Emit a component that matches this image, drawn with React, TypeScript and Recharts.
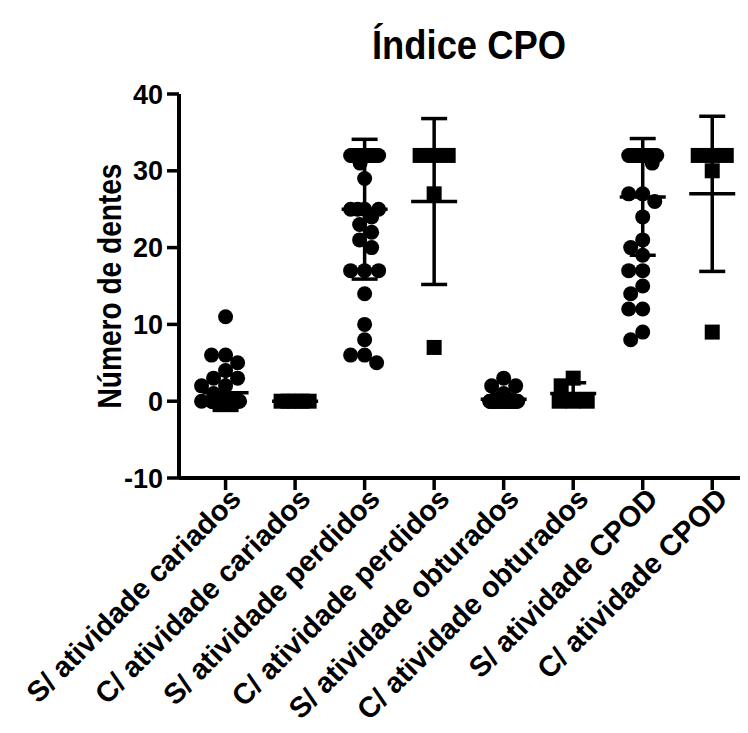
import React from "react";
import { ComposedChart, Scatter, XAxis, YAxis, ErrorBar } from "recharts";

const categories = [
  "S/ atividade cariados",
  "C/ atividade cariados",
  "S/ atividade perdidos",
  "C/ atividade perdidos",
  "S/ atividade obturados",
  "C/ atividade obturados",
  "S/ atividade CPOD",
  "C/ atividade CPOD",
];

// S/ = circles, C/ = squares
const semCariados = [
  11, 6, 6, 5, 4, 3, 3, 2, 2, 1, 0, 0, 0, 0, 0, 0, 0, 0, 0, 0, 0, 0, 0, 0, 0,
  0, 0, 0, 0, 0, 0, 0, 0, 0, 0, 0, 0, 0, 0,
];
const comCariados = [0, 0, 0, 0, 0];
const semPerdidos = [
  32, 32, 32, 32, 32, 32, 32, 32, 32, 32, 32, 32, 32, 32, 32, 32, 32, 32, 32,
  31, 29, 25, 25, 25, 25, 24, 23, 22, 21, 20, 17, 17, 17, 14, 10, 8, 6, 6, 5,
];
const comPerdidos = [32, 32, 32, 27, 7];
const semObturados = [
  3, 2, 2, 1, 0, 0, 0, 0, 0, 0, 0, 0, 0, 0, 0, 0, 0, 0, 0, 0, 0, 0, 0, 0, 0,
  0, 0, 0, 0, 0, 0, 0, 0, 0, 0, 0, 0, 0, 0,
];
const comObturados = [3, 2, 0, 0, 0];
const semCPOD = [
  32, 32, 32, 32, 32, 32, 32, 32, 32, 32, 32, 32, 32, 32, 32, 32, 32, 32, 32,
  32, 32, 32, 32, 31, 27, 27, 26, 24, 21, 20, 19, 17, 17, 15, 14, 12, 12, 9, 8,
];
const comCPOD = [32, 32, 32, 30, 9];

const groups = [
  semCariados,
  comCariados,
  semPerdidos,
  comPerdidos,
  semObturados,
  comObturados,
  semCPOD,
  comCPOD,
];

// mean and SD as drawn
const means = [1.1, 0, 25.0, 26.0, 0.25, 1.0, 26.6, 27.0];
const sds = [2.3, 0, 9.1, 10.8, 0.7, 1.4, 7.6, 10.1];

const yTicks = [-10, 0, 10, 20, 30, 40];

const FONT = "'Liberation Sans', Arial, sans-serif";
const PX_X = 69.43; // px per category
const PX_Y = 7.68; // px per tooth
const MARK = 15;
const FREE_SPREAD = 24;
const ROW_SPREAD = 14;

// simple beeswarm: spread overlapping points sideways
function swarm(values: number[], index: number) {
  const placed: { dx: number; dy: number }[] = [];
  return [...values]
    .sort((a, b) => b - a)
    .map((v) => {
      const dy = v * PX_Y;
      const minDist = (dx: number) =>
        placed.reduce(
          (m, p) => Math.min(m, Math.hypot(p.dx - dx, p.dy - dy)),
          Infinity
        );
      let dx = 0;
      let found = false;
      for (let s = 0; s <= FREE_SPREAD && !found; s += 0.5) {
        for (const c of s === 0 ? [0] : [-s, s]) {
          if (minDist(c) >= MARK - 1) {
            dx = c;
            found = true;
            break;
          }
        }
      }
      if (!found) {
        let best = -1;
        for (let c = -ROW_SPREAD; c <= ROW_SPREAD; c += 0.5) {
          const d = minDist(c);
          if (d > best + 0.01) {
            best = d;
            dx = c;
          }
        }
      }
      placed.push({ dx, dy });
      return { x: index + dx / PX_X, y: v };
    });
}

const meanData = means.map((m, i) => ({ x: i, y: m, sd: sds[i] }));

const Circle = (props: any) => (
  <circle cx={props.cx} cy={props.cy} r={MARK / 2} fill="#000" />
);
const Square = (props: any) => (
  <rect
    x={props.cx - MARK / 2}
    y={props.cy - MARK / 2}
    width={MARK}
    height={MARK}
    fill="#000"
  />
);
const MeanLine = (props: any) => (
  <line
    x1={props.cx - 23}
    x2={props.cx + 23}
    y1={props.cy}
    y2={props.cy}
    stroke="#000"
    strokeWidth={3.5}
  />
);

const XTick = ({ x, y, payload }: any) => (
  <text
    x={x}
    y={y}
    dx={6}
    dy={18}
    transform={`rotate(-45, ${x}, ${y})`}
    textAnchor="end"
    fontFamily={FONT}
    fontWeight="bold"
    fontSize={29}
    fill="#000"
  >
    {categories[payload.value]}
  </text>
);

const YLabel = ({ viewBox }: any) => {
  const cy = viewBox.y + viewBox.height / 2;
  return (
    <text
      x={113}
      y={cy}
      transform={`rotate(-90, 113, ${cy})`}
      textAnchor="middle"
      fontFamily={FONT}
      fontWeight="bold"
      fontSize={33}
      textLength={245}
      lengthAdjust="spacingAndGlyphs"
      fill="#000"
    >
      Número de dentes
    </text>
  );
};

export default function App() {
  return (
    <div style={{ position: "relative", width: 740, height: 717 }}>
      <svg
        width={740}
        height={80}
        style={{ position: "absolute", top: 0, left: 0 }}
      >
        <text
          x={461}
          y={51}
          textAnchor="middle"
          fontFamily={FONT}
          fontWeight="bold"
          fontSize={40}
          textLength={194}
          lengthAdjust="spacingAndGlyphs"
          fill="#000"
        >
          Índice CPO
        </text>
      </svg>
      <ComposedChart
        width={740}
        height={717}
        margin={{ top: 86, right: 1, left: 0, bottom: 0 }}
      >
        <XAxis
          type="number"
          dataKey="x"
          domain={[-0.67, 7.5]}
          ticks={[0, 1, 2, 3, 4, 5, 6, 7]}
          interval={0}
          height={247}
          axisLine={{ stroke: "#000", strokeWidth: 4 }}
          tickLine={{ stroke: "#000", strokeWidth: 3.5 }}
          tickSize={12}
          tick={<XTick />}
        />
        <YAxis
          type="number"
          dataKey="y"
          domain={[-10, 40]}
          ticks={yTicks}
          interval={0}
          width={171}
          axisLine={{ stroke: "#000", strokeWidth: 4 }}
          tickLine={{ stroke: "#000", strokeWidth: 3.5 }}
          tickSize={12}
          tickMargin={4}
          tick={{
            fill: "#000",
            fontSize: 27,
            fontWeight: "bold",
            fontFamily: FONT,
          }}
          label={<YLabel />}
        />
        {groups.map((g, i) => (
          <Scatter
            key={categories[i]}
            data={swarm(g, i)}
            shape={i % 2 === 0 ? Circle : Square}
            isAnimationActive={false}
          />
        ))}
        <Scatter data={meanData} shape={MeanLine} isAnimationActive={false}>
          <ErrorBar
            dataKey="sd"
            direction="y"
            width={13}
            stroke="#000"
            strokeWidth={3.5}
            isAnimationActive={false}
          />
        </Scatter>
      </ComposedChart>
    </div>
  );
}
